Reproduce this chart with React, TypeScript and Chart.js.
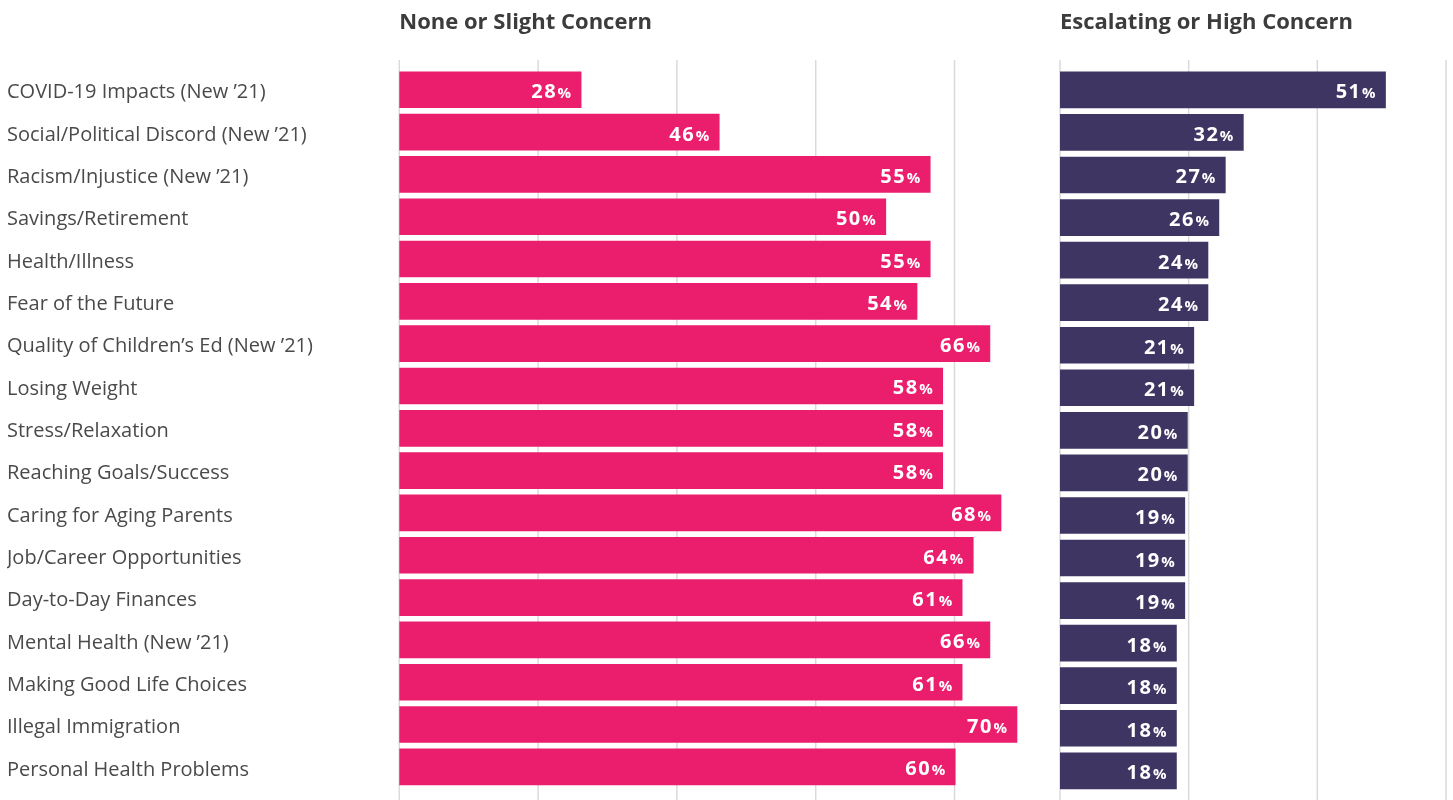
import React, { useEffect, useRef } from "react";
import { Chart, registerables } from "chart.js";

Chart.register(...registerables);

const categories = [
  "COVID-19 Impacts (New \u201921)",
  "Social/Political Discord (New \u201921)",
  "Racism/Injustice (New \u201921)",
  "Savings/Retirement",
  "Health/Illness",
  "Fear of the Future",
  "Quality of Children\u2019s Ed (New \u201921)",
  "Losing Weight",
  "Stress/Relaxation",
  "Reaching Goals/Success",
  "Caring for Aging Parents",
  "Job/Career Opportunities",
  "Day-to-Day Finances",
  "Mental Health (New \u201921)",
  "Making Good Life Choices",
  "Illegal Immigration",
  "Personal Health Problems",
];

// Bar lengths as drawn in the picture (axis units), and the printed labels
const lowBarValues = [26.2, 46.1, 76.5, 70.1, 76.5, 74.6, 85.1, 78.3, 78.3, 78.3, 86.7, 82.7, 81.1, 85.1, 81.1, 89.0, 80.1];
const lowLabels = [28, 46, 55, 50, 55, 54, 66, 58, 58, 58, 68, 64, 61, 66, 61, 70, 60];
const highBarValues = [50.6, 28.5, 25.7, 24.7, 23.0, 23.0, 20.8, 20.8, 19.8, 19.8, 19.4, 19.4, 19.4, 18.1, 18.1, 18.1, 18.1];
const highLabels = [51, 32, 27, 26, 24, 24, 21, 21, 20, 20, 19, 19, 19, 18, 18, 18, 18];

const lowGridTicks = [0, 20, 40, 60, 80];
const highGridTicks = [0, 20, 40, 60];
const lowAxisMax = 92;
const highAxisMax = 60;
const panelTitles = ["None or Slight Concern", "Escalating or High Concern"];

const PINK = "#eb1e6e";
const PURPLE = "#3e3563";
const FONT = '"Open Sans", "Noto Sans", sans-serif';

const PAD_TOP = 68.6;
const PAD_BOTTOM = 7.9;

function makePlugin(title: string, labels: number[], gridTicks: number[]) {
  return {
    id: "panelDecor",
    beforeDatasetsDraw(chart: any) {
      const ctx = chart.ctx;
      const xs = chart.scales.x;
      const area = chart.chartArea;
      ctx.save();
      ctx.strokeStyle = "#dadada";
      ctx.lineWidth = 1.5;
      gridTicks.forEach((v) => {
        const px = xs.getPixelForValue(v);
        ctx.beginPath();
        ctx.moveTo(px, area.top - 8.6);
        ctx.lineTo(px, chart.height);
        ctx.stroke();
      });
      ctx.restore();
    },
    afterDatasetsDraw(chart: any) {
      const ctx = chart.ctx;
      const meta = chart.getDatasetMeta(0);
      ctx.save();
      ctx.fillStyle = "#ffffff";
      ctx.textBaseline = "alphabetic";
      ctx.textAlign = "right";
      meta.data.forEach((el: any, i: number) => {
        const right = el.x - 10;
        const base = el.y + 8.5;
        ctx.font = `700 15px ${FONT}`;
        (ctx as any).letterSpacing = "0px";
        ctx.fillText("%", right, base);
        const pw = ctx.measureText("%").width;
        ctx.font = `700 20px ${FONT}`;
        (ctx as any).letterSpacing = "1.5px";
        ctx.fillText(String(labels[i]), right - pw - 0.5, base);
      });
      ctx.restore();
    },
    afterDraw(chart: any) {
      const ctx = chart.ctx;
      ctx.save();
      (ctx as any).letterSpacing = "0px";
      ctx.font = `700 22px ${FONT}`;
      ctx.fillStyle = "#3c3c3c";
      ctx.textAlign = "left";
      ctx.textBaseline = "middle";
      ctx.fillText(title, chart.chartArea.left, 23);
      ctx.restore();
    },
  };
}

function Panel(props: {
  left: number;
  width: number;
  values: number[];
  labels: number[];
  color: string;
  max: number;
  grid: number[];
  title: string;
  showCategories: boolean;
  padLeft: number;
  padRight: number;
}) {
  const ref = useRef<HTMLCanvasElement | null>(null);
  useEffect(() => {
    if (!ref.current) return;
    const chart = new Chart(ref.current, {
      type: "bar",
      data: {
        labels: categories,
        datasets: [
          {
            data: props.values,
            backgroundColor: props.color,
            borderWidth: 0,
            barThickness: 36,
          },
        ],
      },
      options: {
        indexAxis: "y",
        responsive: false,
        animation: false,
        devicePixelRatio: 1,
        layout: {
          padding: { left: props.padLeft, right: props.padRight, top: PAD_TOP, bottom: PAD_BOTTOM },
        },
        plugins: {
          legend: { display: false },
          tooltip: { enabled: false },
          title: { display: false },
        },
        scales: {
          x: {
            display: false,
            min: 0,
            max: props.max,
            ticks: { stepSize: 20 },
          },
          y: {
            display: props.showCategories,
            offset: true,
            grid: { display: false },
            border: { display: false },
            ticks: {
              crossAlign: "far",
              color: "#4a4a4a",
              font: { family: FONT, size: 20 },
              padding: 0,
              labelOffset: 3,
              autoSkip: false,
            },
            afterFit(scale: any) {
              if (props.showCategories) scale.width = 399.3 - props.padLeft;
            },
          } as any,
        },
      },
      plugins: [makePlugin(props.title, props.labels, props.grid)],
    });
    return () => chart.destroy();
  }, []);
  return (
    <canvas
      ref={ref}
      width={props.width}
      height={800}
      style={{ position: "absolute", left: props.left, top: 0, width: props.width, height: 800 }}
    />
  );
}

export default function App() {
  return (
    <div style={{ position: "fixed", left: 0, top: 0, width: 1453, height: 800, background: "#ffffff", overflow: "hidden" }}>
      <Panel
        left={0}
        width={1040}
        values={lowBarValues}
        labels={lowLabels}
        color={PINK}
        max={lowAxisMax}
        grid={lowGridTicks}
        title={panelTitles[0]}
        showCategories={true}
        padLeft={7}
        padRight={2.2}
      />
      <Panel
        left={1040}
        width={413}
        values={highBarValues}
        labels={highLabels}
        color={PURPLE}
        max={highAxisMax}
        grid={highGridTicks}
        title={panelTitles[1]}
        showCategories={false}
        padLeft={20}
        padRight={7}
      />
    </div>
  );
}
